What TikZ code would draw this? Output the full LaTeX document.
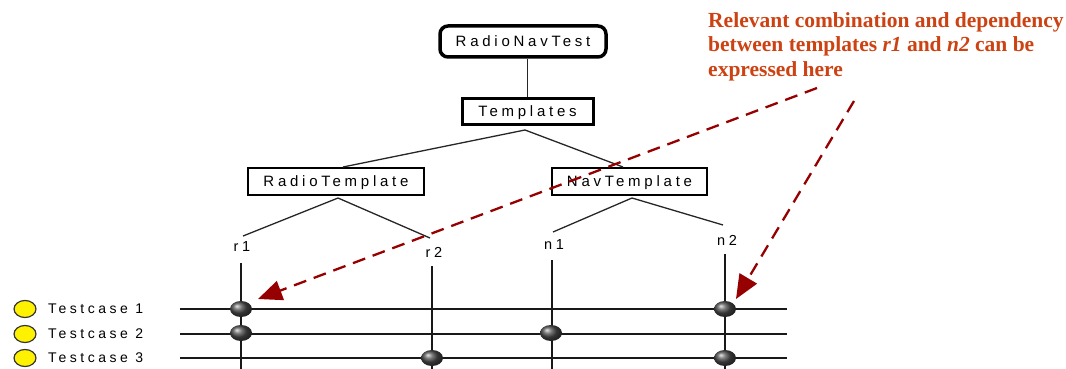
\documentclass[tikz,border=0pt]{standalone}
\usepackage{fontspec}
\setmainfont{Liberation Serif}
\newfontfamily\guifont[LetterSpace=25]{Liberation Sans}
\usetikzlibrary{arrows.meta,shapes.geometric}
\definecolor{notecol}{RGB}{205,66,18}
\definecolor{arrowcol}{RGB}{150,0,0}
\tikzset{
  treebox/.style={draw=black, rectangle, inner sep=0pt, text height=10.7pt, text depth=0pt,
                  font=\guifont\fontsize{15}{16}\selectfont},
  topbox/.style={treebox, line width=3.5pt, rounded corners=8pt, minimum width=166pt, minimum height=31pt},
  midbox/.style={treebox, line width=3pt, minimum width=131pt, minimum height=26pt},
  subbox/.style={treebox, line width=1.3pt, minimum height=27pt},
  branch/.style={line width=1.3pt, black!85},
  wire/.style={line width=1.8pt, black!90},
  leaf/.style={font=\guifont\fontsize{14.5}{15}\selectfont, inner sep=0pt},
  tcase/.style={font=\guifont\fontsize{14}{15}\selectfont, inner sep=0pt, anchor=west},
  knob/.style={ellipse, draw=black!80, line width=1.2pt, fill=yellow, minimum width=22pt, minimum height=17pt, inner sep=0pt},
  ball/.style={ellipse, shading=ball, ball color=black!70, minimum width=22pt, minimum height=16pt, inner sep=0pt},
  hint/.style={draw=arrowcol, line width=2.3pt, dash pattern=on 13pt off 8pt, -{Triangle[length=24pt,width=20pt]}}
}
\begin{document}
\begin{tikzpicture}[x=1pt, y=-1pt]
\useasboundingbox (0,0) rectangle (1066,369);

% tree of templates
\node[topbox] (root) at (523,41.5) {RadioNavTest};
\node[midbox] (tmpl) at (527.5,111) {Templates};
\node[subbox, minimum width=176pt] (radio) at (336,181.5) {RadioTemplate};
\node[subbox, minimum width=155pt] (nav) at (629.5,181.5) {NavTemplate};
\draw[branch] (root.south -| tmpl.north) -- (tmpl.north);

\coordinate (tj) at (525,130);
\coordinate (tjl) at (343,167);
\coordinate (tjr) at (623,167);
\draw[branch] (tjl) -- (tj) -- (tjr);

\coordinate (rj) at (338,198);
\coordinate (rjl) at (243,236);
\coordinate (rjr) at (430,238);
\draw[branch] (rjl) -- (rj) -- (rjr);

\coordinate (nj) at (632,198);
\coordinate (njl) at (553,232);
\coordinate (njr) at (723,225);
\draw[branch] (njl) -- (nj) -- (njr);

% template leaves
\node[leaf] (r1) at (242,247) {r1};
\node[leaf] (r2) at (434,252) {r2};
\node[leaf] (n1) at (554,245) {n1};
\node[leaf] (n2) at (727,240) {n2};

\coordinate (r1b) at (241,369);
\coordinate (r2b) at (432,369);
\coordinate (n1b) at (552,369);
\coordinate (n2b) at (725,369);
\draw[wire] (241,263) -- (r1b);
\draw[wire] (432,266) -- (r2b);
\draw[wire] (552,260) -- (n1b);
\draw[wire] (725,254) -- (n2b);

% test cases
\foreach \k/\y in {1/309,2/334,3/358}{
  \node[knob] (k\k) at (25,\y) {};
  \node[tcase] (t\k) at (48,\y) {Testcase \k};
  \coordinate (ws\k) at (180,\y);
  \coordinate (we\k) at (787,\y);
  \draw[wire] (ws\k) -- (we\k);
}

% chosen template values
\node[ball] (d11) at (241,309) {};
\node[ball] (d14) at (725,309) {};
\node[ball] (d21) at (241,333) {};
\node[ball] (d23) at (551,333) {};
\node[ball] (d32) at (432,358) {};
\node[ball] (d34) at (725,358) {};

% note
\node[anchor=north west, align=left, inner sep=0pt, text=notecol,
      font=\bfseries\fontsize{21.5}{24.7}\selectfont] (note) at (708,12)
  {Relevant combination and dependency\\between templates \textit{r1} and \textit{n2} can be\\expressed here};

\coordinate (a1) at (817,88);
\coordinate (a2) at (854,101);
\coordinate (p1) at (258,299);
\coordinate (p2) at (736,299);
\draw[hint] (a1) -- (p1);
\draw[hint] (a2) -- (p2);
\end{tikzpicture}
\end{document}
